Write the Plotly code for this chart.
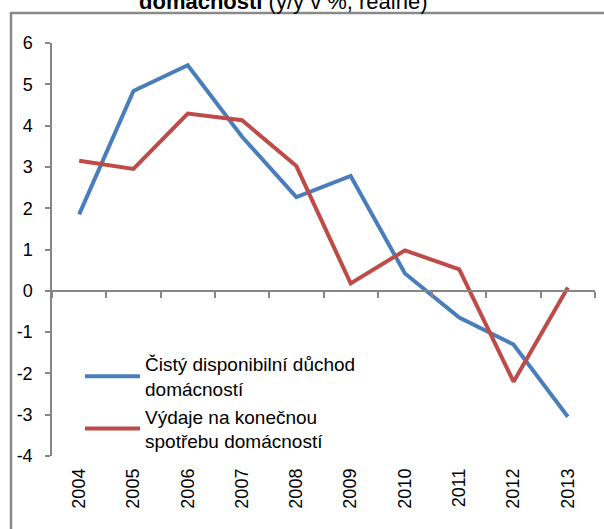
import plotly.graph_objects as go

years = ["2004", "2005", "2006", "2007", "2008", "2009", "2010", "2011", "2012", "2013"]
disp_income = [1.85, 4.84, 5.46, 3.73, 2.27, 2.78, 0.42, -0.65, -1.3, -3.05]
consumption = [3.15, 2.95, 4.29, 4.13, 3.02, 0.18, 0.98, 0.52, -2.2, 0.08]
series_names = ["Čistý disponibilní důchod<br>domácností", "Výdaje na konečnou<br>spotřebu domácností"]
y_tickvals = [6, 5, 4, 3, 2, 1, 0, -1, -2, -3, -4]
y_ticktext = ["6", "5", "4", "3", "2", "1", "0", "-1", "-2", "-3", "-4"]
title_text = "<b>domácností</b> (y/y v %, reálné)"

FONT = "Liberation Sans, Arial, sans-serif"
AXIS_GRAY = "#868686"

fig = go.Figure()
fig.add_trace(go.Scatter(x=years, y=disp_income, mode="lines", name=series_names[0],
                         line=dict(color="#4A7EBB", width=4), xaxis="x", yaxis="y"))
fig.add_trace(go.Scatter(x=years, y=consumption, mode="lines", name=series_names[1],
                         line=dict(color="#BE4B48", width=4), xaxis="x2", yaxis="y"))

fig.update_layout(
    width=604, height=529,
    margin=dict(l=52, r=9, t=43, b=73),
    paper_bgcolor="white", plot_bgcolor="white",
    font=dict(family=FONT, color="#000000"),
    showlegend=True,
    legend=dict(x=(80 - 52) / 543, y=(456 - 345) / 413, xanchor="left", yanchor="top",
                bgcolor="rgba(0,0,0,0)", font=dict(size=19, family=FONT, color="#000000"),
                itemwidth=55, tracegroupgap=0),
    xaxis=dict(type="category", categoryorder="array", categoryarray=years, range=[-0.5, 9.5],
               showline=False, showgrid=False, zeroline=False, ticks="",
               tickangle=-90, tickfont=dict(size=18, family=FONT, color="#000000"),
               ticklabelstandoff=8),
    xaxis2=dict(type="category", categoryorder="array", categoryarray=years, range=[-0.5, 9.5],
                overlaying="x", anchor="free", position=0.4,
                showline=True, linecolor=AXIS_GRAY, linewidth=1.5, showgrid=False, zeroline=False,
                ticks="outside", ticklen=6, tickcolor=AXIS_GRAY, tickwidth=1.5,
                tickson="boundaries", showticklabels=False),
    yaxis=dict(range=[-4, 6], tickvals=y_tickvals, ticktext=y_ticktext,
               showline=True, linecolor=AXIS_GRAY, linewidth=1.5, showgrid=False, zeroline=False,
               ticks="outside", ticklen=5, tickcolor=AXIS_GRAY, tickwidth=1.5,
               tickfont=dict(size=18, family=FONT, color="#000000"), ticklabelstandoff=9),
    shapes=[dict(type="rect", xref="paper", yref="paper",
                 x0=(11 - 52) / 543, x1=1.2, y0=-0.5, y1=(456 - 13) / 413,
                 line=dict(color="#8a8a8a", width=2.5), fillcolor="rgba(0,0,0,0)", layer="below")],
    annotations=[dict(text=title_text, xref="paper", yref="paper",
                      x=(283 - 52) / 543, y=(456 - 15.5) / 413, xanchor="center", yanchor="bottom",
                      showarrow=False, font=dict(size=22, family=FONT, color="#000000"))],
)

fig.write_html("out.html", config={"displayModeBar": False},
               post_script="document.body.style.margin='0';")
